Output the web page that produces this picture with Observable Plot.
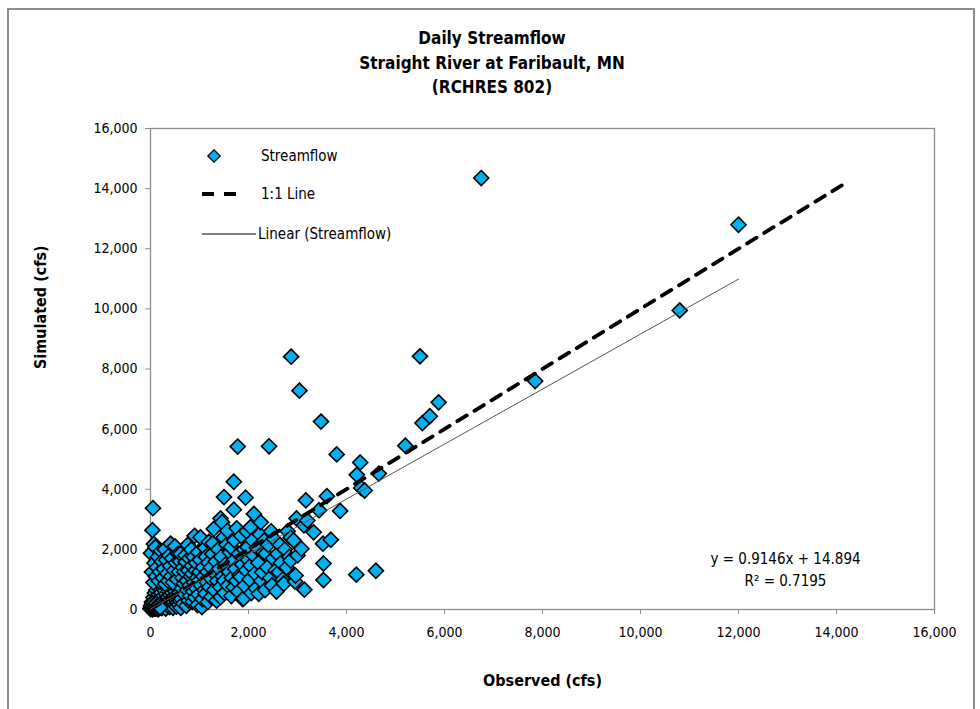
<!DOCTYPE html>
<html><head><meta charset="utf-8">
<script src="https://cdn.jsdelivr.net/npm/d3@7"></script>
<script src="https://cdn.jsdelivr.net/npm/@observablehq/plot@0.6"></script>
<style>
body{margin:0;background:#fff;}
#wrap{position:relative;width:980px;height:709px;overflow:hidden;font-family:"Liberation Sans Narrow","Arial Narrow","DejaVu Sans Condensed",sans-serif;font-stretch:condensed;}
#border{position:absolute;left:7px;top:8px;width:968px;height:760px;border:2px solid #8c8c8c;box-sizing:border-box;pointer-events:none;}
#title{height:110px;box-sizing:border-box;padding-top:26px;text-align:center;font-weight:bold;font-size:17px;line-height:24.5px;color:#000;padding-left:4px;}
#chart svg{display:block;}
</style></head>
<body>
<div id="wrap">
<div id="border"></div>
<div id="title">Daily Streamflow<br>Straight River at Faribault, MN<br>(RCHRES 802)</div>
<div id="chart"></div>
</div>
<script>
// Observed / simulated daily streamflow (cfs)
const observed = [
0,10,20,30,40,50,60,70,80,90,100,110,120,130,140,150,160,170,180,190,200,210,220,230,240,250,260,270,280,290,300,310,320,330,340,350,360,370,380,390,400,410,420,430,440,450,460,470,480,490,500,510,520,530,540,550,560,570,580,590,600,
5,15,25,35,45,55,65,75,85,95,105,115,125,135,145,155,165,175,185,195,
10,30,40,50,60,70,80,100,110,130,150,170,190,210,230,250,270,290,300,320,340,360,380,400,410,420,440,460,480,500,520,540,560,580,600,610,
620,630,640,650,660,670,680,690,700,710,720,730,740,750,760,770,780,790,800,810,820,830,840,850,860,870,880,890,900,910,920,930,940,950,960,970,980,990,1000,1010,1020,1030,1050,1060,1070,1080,1100,1110,1120,1130,1150,1160,1170,1180,1190,1200,
1220,1230,1240,1260,1270,1290,1300,1310,1330,1350,1360,1380,1400,1420,1430,1430,1440,1460,1470,1490,1500,1500,1510,1530,1550,1570,1580,1600,1620,1640,1650,1660,1680,1700,1700,1700,1710,1730,1750,1760,1780,1790,1800,1820,1840,1850,1870,1880,1900,1910,1920,1940,1950,1960,1980,1990,
2020,2040,2040,2060,2080,2100,2110,2130,2150,2170,2200,2210,2230,2250,2260,2280,2300,2320,2340,2350,2380,2400,2420,2440,2460,2480,2500,2520,2550,2570,2590,2620,2640,2660,2700,2720,2740,2780,2800,2830,2860,2860,2870,
2920,2950,2960,2980,3000,3040,3080,3130,3140,3170,3200,3330,3440,3480,3520,3530,3530,3600,3680,3800,3870,4200,4210,4280,4300,4370,4600,4660,
5200,5500,5550,5700,5880,6750,7850,10800,12000
];
const simulated = [
30,120,60,250,10,180,400,90,300,550,40,220,650,130,350,20,480,250,700,90,380,160,560,50,300,760,200,450,110,620,330,30,520,230,720,140,420,600,260,80,480,330,680,170,560,380,60,250,740,450,150,600,320,100,500,230,700,400,160,560,290,
15,70,140,40,210,100,25,160,60,120,35,190,80,50,130,10,95,45,150,70,
1870,1250,2640,3370,900,2180,1550,2070,1100,1400,1750,950,1250,1950,1600,1050,1350,2000,850,1650,1200,950,1800,1450,2190,1100,1700,900,1300,2100,1550,1000,1850,1250,1600,1850,
60,350,700,1050,1400,200,860,1250,500,1800,1580,120,950,650,2150,1300,300,1700,800,450,1100,2000,1450,1190,250,600,1750,900,2450,400,1300,1550,700,1050,150,1900,500,960,1250,1650,2400,800,80,350,1400,1100,650,2050,520,1750,900,1250,250,1550,2250,750,
1050,1400,420,1850,2200,2680,650,1200,1600,300,950,2000,1350,750,410,3030,1750,2900,1100,2400,960,3740,550,1500,2150,2620,800,1250,1900,2080,450,1050,1600,740,3320,4250,2300,1350,950,2700,5420,600,1850,1150,1080,2450,1500,350,360,2000,800,3720,1300,2600,2080,1650,
1000,1460,2740,550,2300,1800,3180,1200,700,2050,1550,520,2500,2900,950,1240,1900,2290,650,1860,1400,2150,5430,1050,2600,800,1700,2350,1300,600,1850,1240,2150,1550,1000,860,2000,1400,2600,1750,2390,1630,8410,
2300,930,1130,3030,1800,7280,2020,2800,660,3630,2960,2570,3300,6250,2190,980,1530,3770,2320,5160,3280,1160,4480,4890,4040,3960,1290,4520,
5450,8420,6200,6430,6890,14350,7600,9950,12800
];
const axisTicks = [0,2000,4000,6000,8000,10000,12000,14000,16000];
const oneToOneEnd = 14200;            // 1:1 line drawn from 0 to here
const trendSlope = 0.9146, trendIntercept = 14.894, trendR2 = 0.7195;
const trendXRange = [0, 12000];
const legendLabels = ["Streamflow", "1:1 Line", "Linear (Streamflow)"];
const titleX = "Observed (cfs)", titleY = "Simulated (cfs)";

const FONT = '"Liberation Sans Narrow","Arial Narrow","DejaVu Sans Condensed",sans-serif';
const R = 6.8, RL = 5.6;
const pts = observed.map((x, i) => ({x, y: simulated[i]}));
const oneToOne = [{x: 0, y: 0}, {x: oneToOneEnd, y: oneToOneEnd}];
const trend = trendXRange.map(x => ({x, y: trendSlope * x + trendIntercept}));
const eqLines = [`y = ${trendSlope}x + ${trendIntercept}`, `R² = ${trendR2}`];

const chart = Plot.plot({
  width: 980, height: 599,
  marginLeft: 150, marginRight: 46, marginTop: 18, marginBottom: 100,
  style: {fontFamily: FONT, fontSize: "14px", color: "#000", background: "transparent", fontStretch: "condensed"},
  x: {domain: [0, 16000]},
  y: {domain: [0, 16000]},
  marks: [
    Plot.frame({stroke: "#8c8c8c", strokeWidth: 1.3}),
    Plot.axisX({ticks: axisTicks, tickFormat: d3.format(","), tickSize: 5, tickPadding: 13, stroke: "#8c8c8c", fill: "#000", label: null, fontSize: 14}),
    Plot.axisY({ticks: axisTicks, tickFormat: d3.format(","), tickSize: 5, tickPadding: 8, stroke: "#8c8c8c", fill: "#000", label: null, fontSize: 14}),
    Plot.dot(pts, {x: "x", y: "y", symbol: "diamond2", r: R, fill: "#00B0F0", stroke: "#000", strokeWidth: 1.6}),
    Plot.line(oneToOne, {x: "x", y: "y", stroke: "#000", strokeWidth: 3.8, strokeDasharray: "11,9"}),
    Plot.line(trend, {x: "x", y: "y", stroke: "#555", strokeWidth: 1}),
    Plot.text([eqLines[0]], {frameAnchor: "bottom-right", dx: -149, dy: -46, textAnchor: "middle", fontSize: 15}),
    Plot.text([eqLines[1]], {frameAnchor: "bottom-right", dx: -149, dy: -24, textAnchor: "middle", fontSize: 15}),
    Plot.text([titleX], {frameAnchor: "bottom", dy: 76, fontWeight: "bold", fontSize: 16}),
    Plot.text([titleY], {frameAnchor: "left", dx: -110, rotate: -90, fontWeight: "bold", fontSize: 16})
  ]
});

// in-plot legend (top-left of frame)
const svg = d3.select(chart);
const g = svg.append("g").attr("font-family", FONT).attr("font-size", 15).attr("font-stretch", "condensed").attr("text-anchor", "start");
g.append("path").attr("d", d3.symbol(d3.symbolDiamond2, Math.PI * RL * RL)())
  .attr("transform", "translate(214,46)").attr("fill", "#00B0F0").attr("stroke", "#000").attr("stroke-width", 1.2);
g.append("line").attr("x1", 202).attr("x2", 240).attr("y1", 84).attr("y2", 84)
  .attr("stroke", "#000").attr("stroke-width", 3.8).attr("stroke-dasharray", "12,10");
g.append("line").attr("x1", 202).attr("x2", 256).attr("y1", 124).attr("y2", 124)
  .attr("stroke", "#000").attr("stroke-width", 1);
[[261, 46], [261, 84], [258, 124]].forEach(([x, y], i) => {
  g.append("text").attr("x", x).attr("y", y).attr("dy", "0.35em").attr("text-anchor", "start").attr("fill", "#000").text(legendLabels[i]);
});

document.getElementById("chart").appendChild(chart);
</script>
</body></html>
